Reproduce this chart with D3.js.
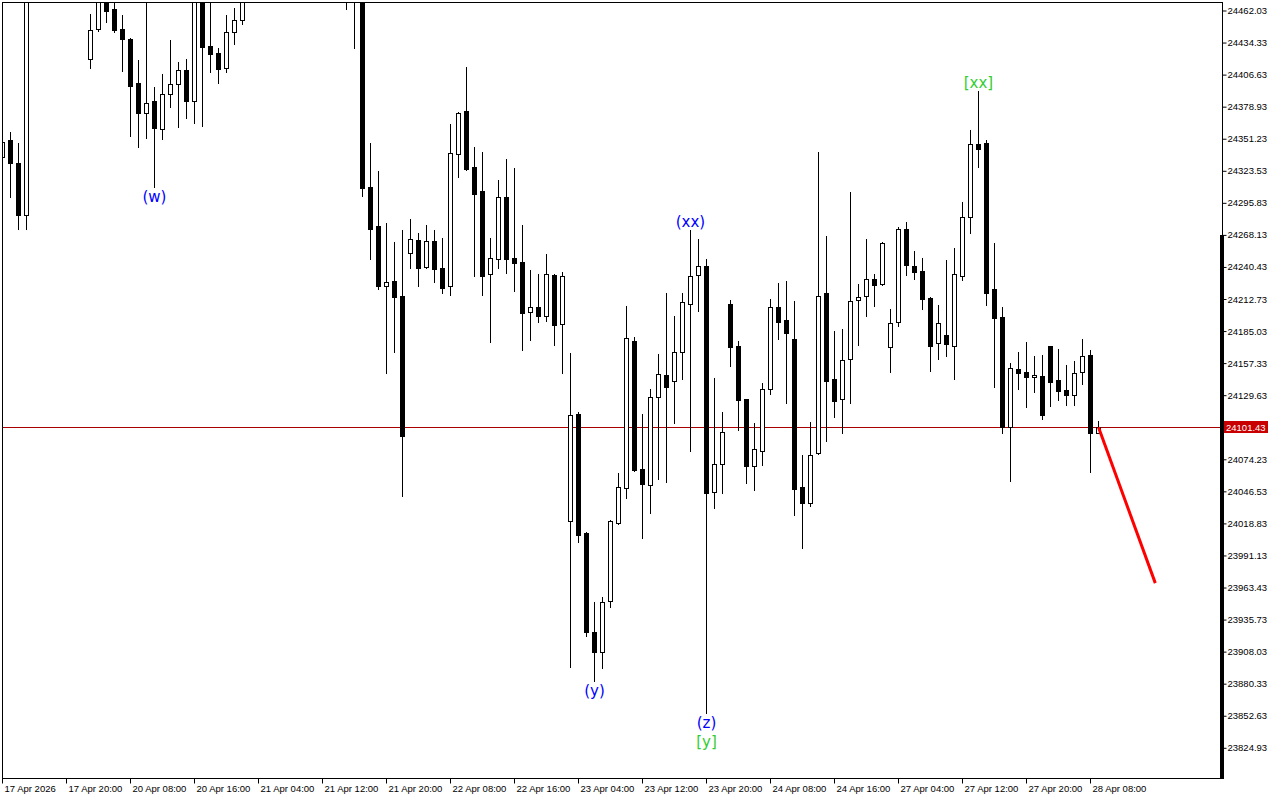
<!DOCTYPE html>
<html>
<head>
<meta charset="utf-8">
<script src="https://cdn.jsdelivr.net/npm/d3@7"></script>
<style>
  html, body { margin: 0; padding: 0; background: #ffffff; }
  svg { display: block; }
</style>
</head>
<body>
<svg id="chart" width="1280" height="800"></svg>
<script>
// ---------- DATA (H1 bars, index 0..137; null = bar entirely above the visible range) ----------
const opens = [
24335.0,24349.7,24329.8,24284.9,null,null,null,null,null,null,null,24419.7,24445.6,24478,24462.9,24445.6,24437.0,24398.9,24373.0,24383.4,
24359.2,24389.4,24398.1,24410.2,24383.4,24488,24430.9,24424.9,24411.9,24443.0,24453.4,null,null,null,null,null,null,null,null,null,
null,null,null,24490,24485,24478,24309.0,24275.3,24223.5,24227.8,24214.8,24252.0,24263.2,24239.9,24262.4,24239.0,24223.5,24337.6,24374.7,24326.3,
24305.6,24233.9,24246.8,24300.4,24247.7,24244.2,24201.0,24205.3,24197.6,24233.0,24190.6,24020.4,24112.9,24010.0,23924.4,23907.2,23951.2,24018.6,24048.9,24175.9,
24065.3,24051.5,24127.5,24146.6,24141.4,24166.4,24207.9,24233.0,24240.8,24045.4,24069.6,24207.9,24171.6,24125.8,24067.9,24080.9,24134.5,24205.3,24194.1,24177.7,
24049.8,24035.9,24079.1,24217.4,24143.1,24125.8,24160.4,24211.4,24214.8,24229.5,24225.2,24170.8,24192.4,24272.7,24240.8,24236.4,24213.1,24174.2,24181.1,24171.6,
24232.1,24283.1,24346.2,24347.1,24220.9,24196.7,24101.6,24151.7,24149.2,24144.8,24145.7,24171.6,24142.2,24133.6,24129.3,24149.2,24163.8,24096.4
];
const highs = [
24349.7,24356.6,24347.1,24495,null,null,null,null,null,null,null,24458.6,24485,24482,24472,24457.7,24437.8,24418.8,24474,24395.5,
24406.7,24436.1,24417.1,24419.7,24495,24492,24471,24429.2,24457.7,24463.8,24482,null,null,null,null,null,null,null,null,null,
null,null,null,24495,24490,24482,24347.1,24322.9,24277.9,24261.5,24271.9,24281.4,24269.3,24276.2,24271.9,24265.0,24363.5,24373.5,24412.8,24343.6,
24339.3,24265.0,24315.1,24333.3,24325.5,24276.2,24237.3,24233.9,24251.1,24233.5,24235.6,24165.6,24114.6,24010.9,23950.4,23954.7,24021.2,24061.9,24206.2,24179.4,
24112.9,24134.5,24164.7,24217.4,24197.6,24217.4,24271.9,24264.1,24246.8,24144.0,24114.6,24211.4,24175.9,24126.2,24105.1,24139.6,24212.2,24226.1,24227.8,24210.5,
24077.4,24105.9,24339.3,24266.7,24184.6,24186.3,24304.7,24225.2,24264.1,24233.9,24261.5,24203.6,24274.5,24278.8,24253.7,24247.7,24214.0,24207.1,24246.0,24256.3,
24296.1,24358.3,24392.0,24349.7,24260.6,24205.3,24156.9,24166.4,24175.1,24163.0,24163.8,24172.0,24169.0,24155.2,24158.7,24177.7,24168.2,24106.8
];
const lows = [
24334.1,24300.4,24272.7,24272.7,null,null,null,null,null,null,null,24411.9,24443.9,24451.7,24443.0,24409.3,24353.1,24343.6,24351.4,24309.0,
24350.5,24378.2,24360.9,24368.7,24364.4,24361.8,24408.4,24398.9,24408.4,24432.6,24449.9,null,null,null,null,null,null,null,null,null,
null,null,null,24462.9,24429.2,24301.3,24246.8,24220.9,24148.3,24166.4,24042.0,24239.0,24223.5,24239.0,24226.9,24217.4,24215.7,24317.7,24323.7,24232.1,
24215.7,24175.1,24239.0,24234.7,24219.2,24168.2,24176.8,24192.4,24193.2,24172.5,24148.3,23894.2,24002.2,23921.0,23882.1,23893.3,23946.0,24018.2,24040.3,24063.6,
24005.7,24027.3,24056.7,24054.1,24105.1,24143.1,24080.9,24201.9,23854.4,24031.6,24044.6,24154.3,24099.0,24053.2,24047.2,24068.8,24130.1,24177.7,24122.4,24025.6,
23997.0,24033.3,24078.3,24089.5,24110.3,24096.4,24122.4,24172.5,24197.6,24206.2,24224.8,24149.2,24188.9,24233.0,24229.5,24203.6,24150.0,24160.4,24163.0,24143.1,
24228.7,24269.3,24326.3,24207.1,24136.2,24096.4,24054.9,24134.5,24118.9,24131.9,24108.5,24119.8,24125.0,24120.6,24120.6,24138.8,24062.7,24096.4
];
const closes = [
24347.9,24329.8,24284.9,24490,null,null,null,null,null,null,null,24444.7,24480,24461.2,24444.7,24437.0,24396.3,24373.0,24381.6,24360.0,
24389.4,24398.1,24410.2,24383.4,24490,24430.0,24424.0,24411.0,24443.0,24453.4,24478,null,null,null,null,null,null,null,null,null,
null,null,null,24485,24480,24308.2,24272.7,24223.5,24226.9,24214.0,24093.8,24264.1,24239.0,24262.4,24238.2,24221.8,24338.4,24373.0,24324.6,24303.0,
24232.1,24247.7,24300.4,24246.8,24243.4,24200.1,24205.3,24197.6,24233.9,24189.8,24232.1,24112.0,24008.3,23924.4,23907.2,23950.4,24020.4,24049.8,24178.5,24064.5,
24052.4,24127.5,24147.4,24136.2,24166.4,24209.7,24232.1,24240.8,24044.6,24069.6,24097.3,24170.8,24125.0,24067.9,24082.6,24134.5,24205.3,24192.4,24182.9,24048.0,
24035.9,24077.4,24214.8,24141.4,24124.1,24159.5,24210.5,24214.0,24229.5,24224.3,24260.6,24191.5,24272.7,24241.6,24235.6,24212.2,24171.6,24191.5,24173.4,24233.9,
24283.1,24346.2,24341.9,24217.4,24195.8,24101.6,24152.6,24148.3,24144.8,24146.6,24112.0,24140.5,24132.7,24129.3,24148.3,24163.0,24096.4,24101.43
];

const yTickValues = [24462.03,24434.33,24406.63,24378.93,24351.23,24323.53,24295.83,24268.13,24240.43,24212.73,24185.03,24157.33,
  24129.63,24074.23,24046.53,24018.83,23991.13,23963.43,23935.73,23908.03,23880.33,23852.63,23824.93];
const xTickIndex = [0,8,16,24,32,40,48,56,64,72,80,88,96,104,112,120,128,136];
const xTickLabels = ["17 Apr 2026","17 Apr 20:00","20 Apr 08:00","20 Apr 16:00","21 Apr 04:00","21 Apr 12:00","21 Apr 20:00",
  "22 Apr 08:00","22 Apr 16:00","23 Apr 04:00","23 Apr 12:00","23 Apr 20:00","24 Apr 08:00","24 Apr 16:00","27 Apr 04:00",
  "27 Apr 12:00","27 Apr 20:00","28 Apr 08:00"];

const currentPrice = 24101.43;
const projectionIndex = [137, 144.1];
const projectionPrice = [24101.43, 23966.8];

const waveText  = ["(w)", "(xx)", "(y)", "(z)", "[y]", "[xx]"];
const waveBar   = [19, 86, 74, 88, 88, 122];
const waveSide  = ["low", "high", "low", "low", "low", "high"];
const waveStack = [0, 0, 0, 0, 1, 0];
const waveLevel = ["minor", "minor", "minor", "minor", "major", "major"];

// ---------- LAYOUT ----------
const L = 2, T = 2, R = 1222, B = 778;
const svg = d3.select("#chart");
svg.append("rect").attr("width", 1280).attr("height", 800).attr("fill", "#ffffff");

const x = d3.scaleLinear().domain([0, 137]).range([2.5, 1098.5]);
const y = d3.scaleLinear().domain([24462.03, 23824.93]).range([10, 747.3]);
const py = v => Math.round(y(v)) + 0.5;

svg.append("clipPath").attr("id", "plot")
  .append("rect").attr("x", L + 1).attr("y", T + 1).attr("width", R - L - 1).attr("height", B - T - 1);

const bars = d3.range(opens.length).filter(i => opens[i] !== null).map(i => ({
  i, o: opens[i], h: highs[i], l: lows[i], c: closes[i]
}));

const g = svg.append("g").attr("clip-path", "url(#plot)");

// current price line
g.append("line")
  .attr("x1", L).attr("x2", R)
  .attr("y1", py(currentPrice)).attr("y2", py(currentPrice))
  .attr("stroke", "#a80000").attr("stroke-width", 1);

// wicks
g.selectAll("line.wick").data(bars).enter().append("line")
  .attr("class", "wick")
  .attr("x1", d => x(d.i)).attr("x2", d => x(d.i))
  .attr("y1", d => Math.round(y(d.h))).attr("y2", d => Math.round(y(d.l)) + 1)
  .attr("stroke", "#000").attr("stroke-width", 1);

// bodies
g.selectAll("rect.body").data(bars).enter().append("rect")
  .attr("class", "body")
  .each(function(d) {
    const top = Math.round(y(Math.max(d.o, d.c)));
    const bot = Math.round(y(Math.min(d.o, d.c)));
    const sel = d3.select(this);
    if (d.c >= d.o) {
      sel.attr("x", x(d.i) - 2).attr("width", 4)
         .attr("y", top + 0.5).attr("height", Math.max(bot - top, 1))
         .attr("fill", "#fff").attr("stroke", "#000").attr("stroke-width", 1);
    } else {
      sel.attr("x", x(d.i) - 2.5).attr("width", 5)
         .attr("y", top).attr("height", Math.max(bot - top + 1, 2))
         .attr("fill", "#000");
    }
  });

// projection line
g.append("line")
  .attr("x1", x(projectionIndex[0])).attr("y1", y(projectionPrice[0]))
  .attr("x2", x(projectionIndex[1])).attr("y2", y(projectionPrice[1]))
  .attr("stroke", "#ff0000").attr("stroke-width", 3);

// wave labels
svg.selectAll("text.wave").data(waveText).enter().append("text")
  .attr("class", "wave")
  .attr("x", (d, j) => x(waveBar[j]))
  .attr("y", (d, j) => {
    const k = waveBar[j];
    if (waveSide[j] === "high") return y(highs[k]) - 3;
    return y(lows[k]) + 15 + waveStack[j] * 19;
  })
  .attr("text-anchor", "middle")
  .attr("font-family", "'DejaVu Sans', sans-serif")
  .attr("font-size", "15px")
  .attr("fill", (d, j) => waveLevel[j] === "major" ? "#32cd32" : "#0000ff")
  .text(d => d);

// frame
svg.append("rect")
  .attr("x", L + 0.5).attr("y", T + 0.5).attr("width", R - L).attr("height", B - T)
  .attr("fill", "none").attr("stroke", "#000").attr("stroke-width", 1);
svg.append("rect").attr("x", R - 2).attr("y", 235).attr("width", 4).attr("height", B - 235 + 1).attr("fill", "#000");

// right price axis
const yAxis = d3.axisRight(y).tickValues(yTickValues).tickFormat(d3.format(".2f")).tickSize(4).tickPadding(1);
const ya = svg.append("g").attr("transform", `translate(${R + 0.5},0.5)`).call(yAxis);
ya.select(".domain").remove();
ya.selectAll("line").attr("stroke", "#000");
ya.selectAll("text").attr("font-family", "'Liberation Sans', Arial, sans-serif").attr("font-size", "9.5px").attr("fill", "#000");

// current price label
const cpY = py(currentPrice);
svg.append("rect").attr("x", 1224).attr("y", cpY - 6.5).attr("width", 44).attr("height", 12).attr("fill", "#c80000");
svg.append("text").attr("x", 1226).attr("y", cpY + 3.5)
  .attr("font-family", "'Liberation Sans', Arial, sans-serif").attr("font-size", "9.5px").attr("fill", "#fff")
  .text(d3.format(".2f")(currentPrice));

// bottom time axis
const xAxis = d3.axisBottom(x).tickValues(xTickIndex).tickFormat((d, j) => xTickLabels[j]).tickSize(5).tickPadding(2);
const xa = svg.append("g").attr("transform", `translate(-0.5,${B + 0.5})`).call(xAxis);
xa.select(".domain").remove();
xa.selectAll("line").attr("stroke", "#000");
xa.selectAll("text")
  .attr("text-anchor", "start").attr("x", 2).attr("dy", "0.71em")
  .attr("font-family", "'Liberation Sans', Arial, sans-serif").attr("font-size", "9.5px").attr("fill", "#000");
</script>
</body>
</html>
